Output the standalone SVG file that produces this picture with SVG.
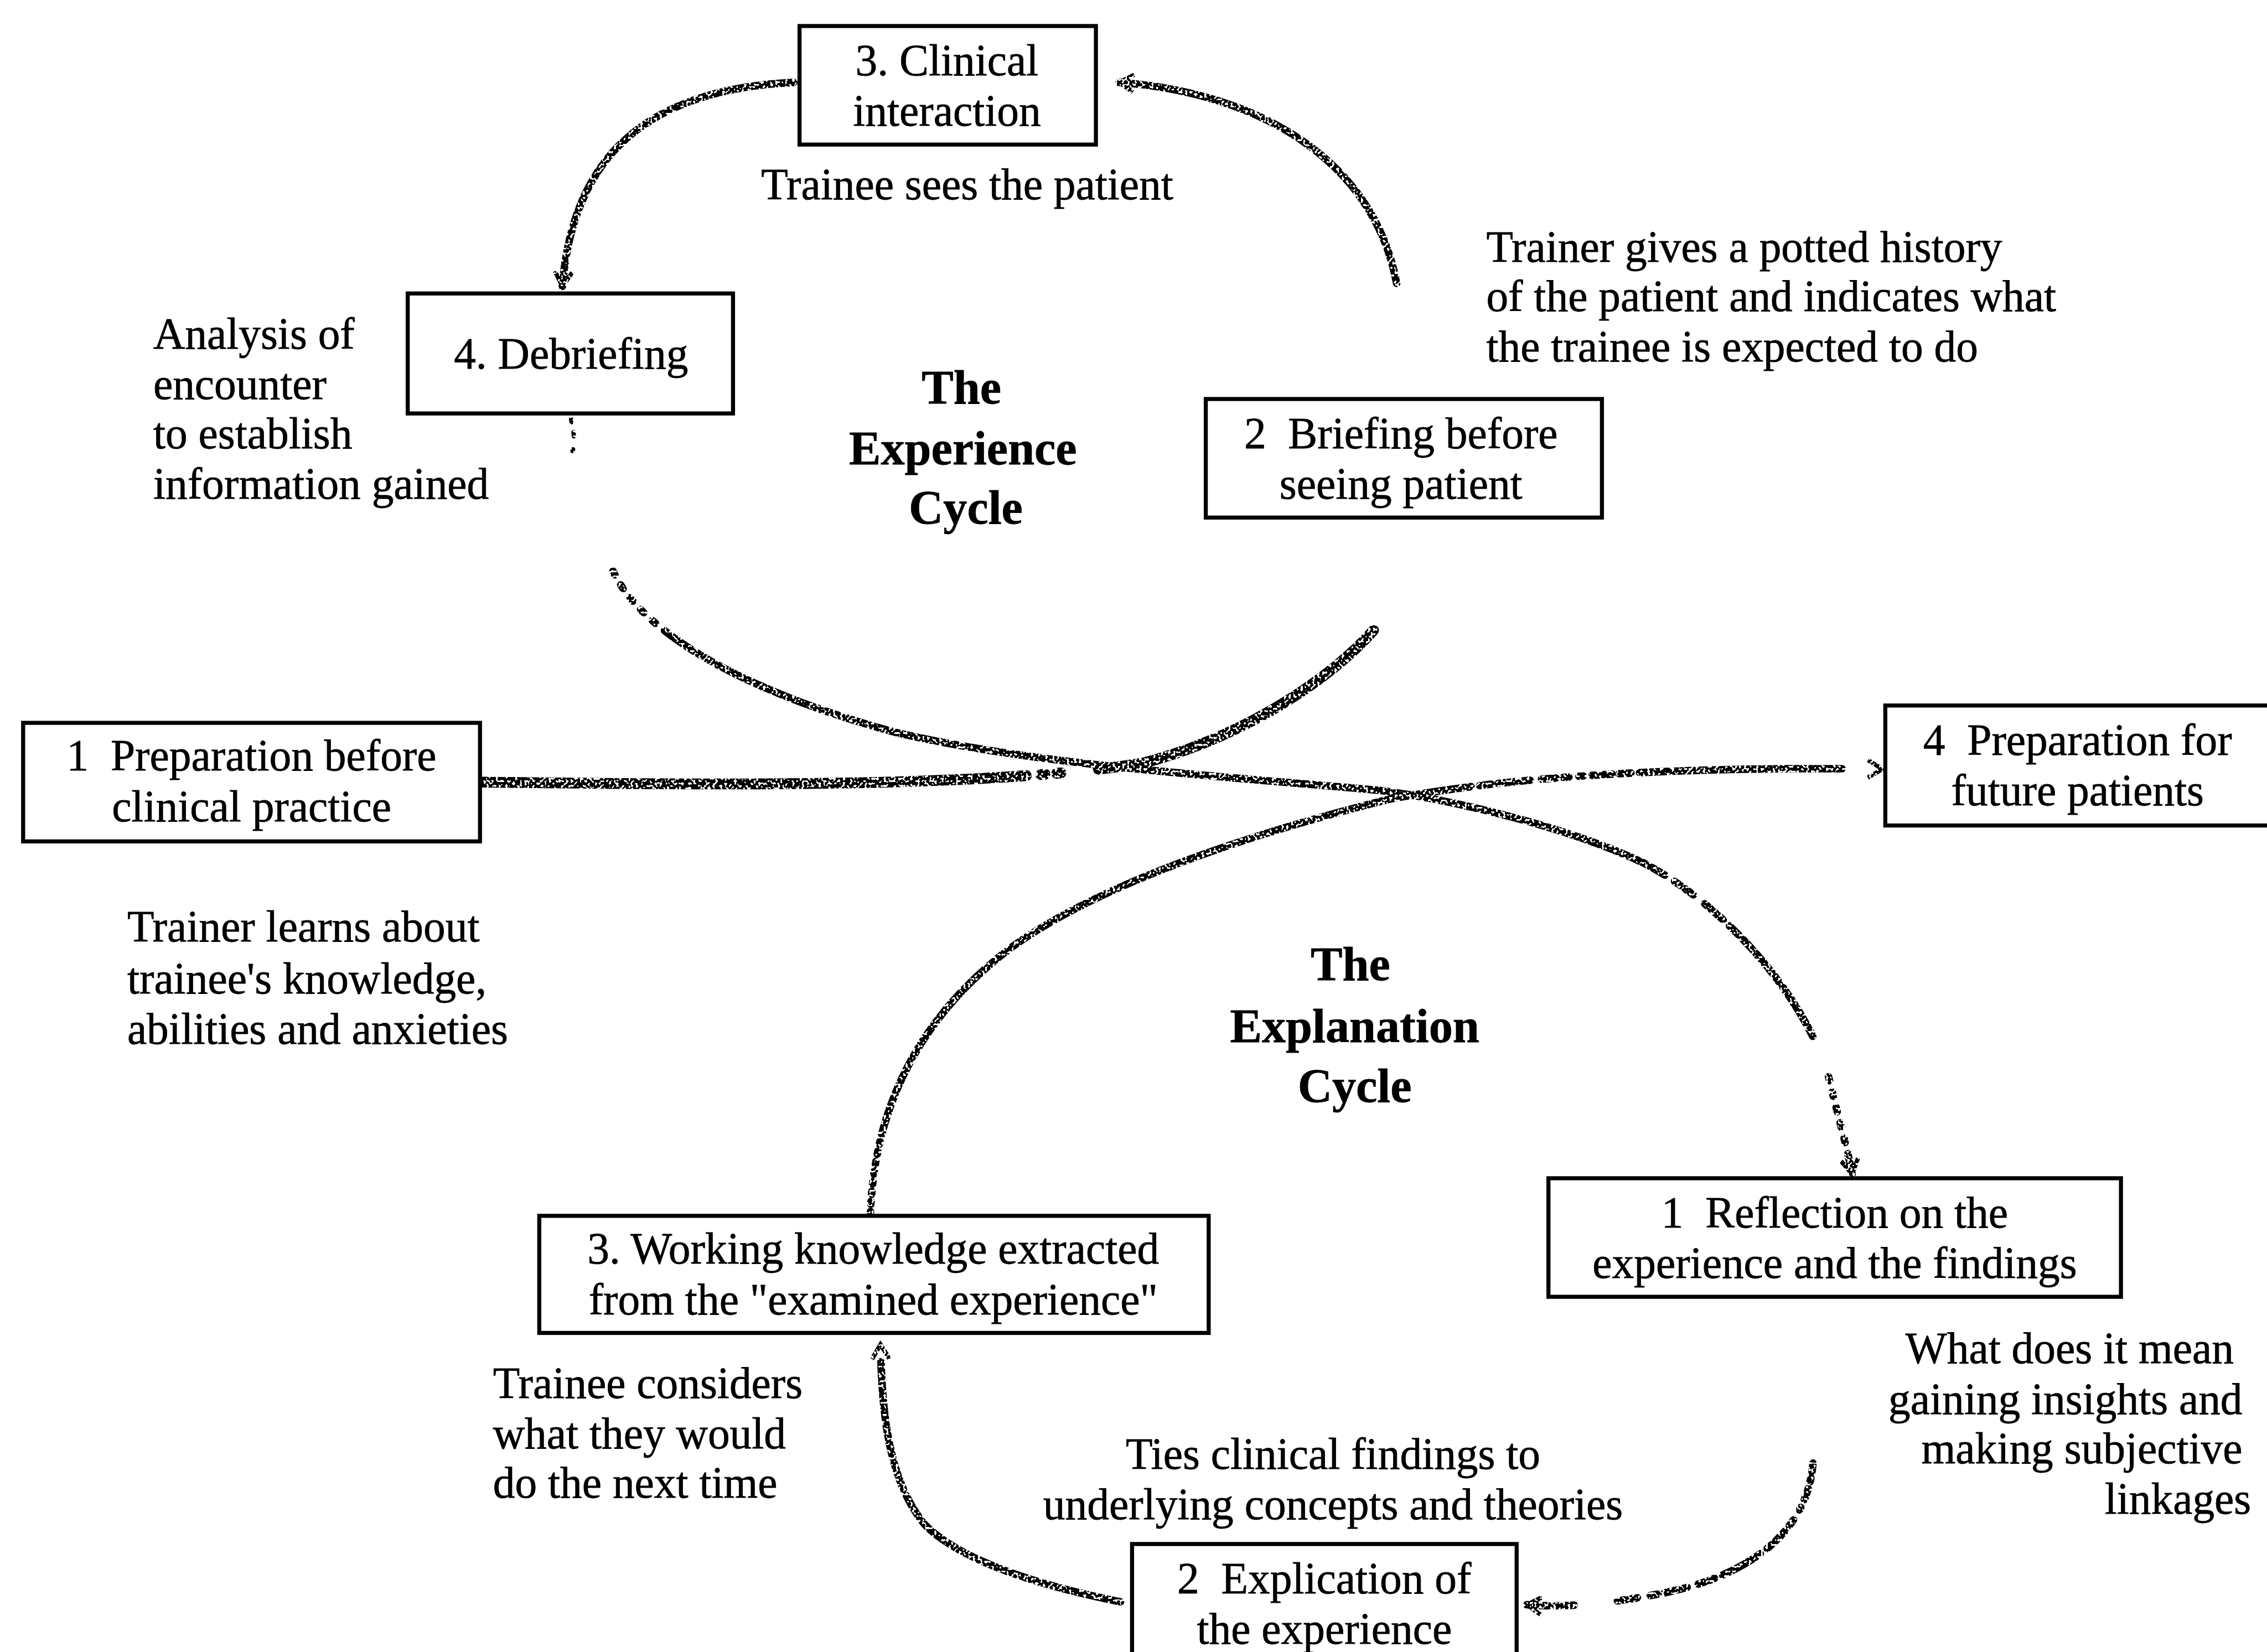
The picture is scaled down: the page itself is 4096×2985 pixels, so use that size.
<svg xmlns="http://www.w3.org/2000/svg" width="4096" height="2985" viewBox="0 0 4096 2985">
  <defs>
    <style>
      .t { font-family: "Liberation Serif", "Times New Roman", serif; font-size: 30.4px; fill: #000; stroke: #000; stroke-width: 0.3px; }
      .b { font-weight: bold; font-size: 33px; }
      .c { text-anchor: middle; }
      .e { text-anchor: end; }
      .box { fill: #fff; stroke: #000; stroke-width: 2.8; }
      .ln { fill: none; stroke: #000; stroke-width: 5.2; stroke-linecap: round; }
      .thick { stroke-width: 7.5; }
      .faint { stroke-width: 3; stroke-dasharray: 2 7 3 9; }
    </style>
    <!-- speckled, chalk-like texture for the cycle lines -->
    <filter id="chalk" filterUnits="userSpaceOnUse" x="0" y="0" width="1568" height="1143">
      <feTurbulence type="fractalNoise" baseFrequency="0.6" numOctaves="1" seed="7" result="noise"/>
      <feComponentTransfer in="noise" result="mask">
        <feFuncA type="discrete" tableValues="0 0 0 1 1 1 1"/>
      </feComponentTransfer>
      <feComposite in="SourceGraphic" in2="mask" operator="in"/>
    </filter>
    <marker id="tip" markerUnits="userSpaceOnUse" markerWidth="16" markerHeight="16" refX="11" refY="7" orient="auto" viewBox="0 0 16 14">
      <path d="M1,1 L11,7 L1,13" fill="none" stroke="#000" stroke-width="3"/>
    </marker>
  </defs>

  <rect width="4096" height="2985" fill="#fff"/>

  <g transform="scale(2.61224)">
    <!-- connectors: the experience cycle (upper loop) and explanation cycle (lower loop) -->
    <g id="connectors" filter="url(#chalk)">
      <!-- 1 Preparation -> 2 Briefing -->
      <path class="ln thick" d="M334,541 C500,543 680,545 790,528 C860,510 920,470 950,436" stroke-dasharray="376 10 3 8 3 26 400"/>
      <!-- 2 Briefing -> 3 Clinical interaction -->
      <path class="ln" d="M966,196 C950,110 870,64 774,57" marker-end="url(#tip)"/>
      <!-- 3 Clinical interaction -> 4 Debriefing -->
      <path class="ln" d="M549,57 C445,62 396,110 389,198" marker-end="url(#tip)"/>
      <!-- 4 Debriefing -> 1 Reflection -->
      <path class="ln faint" d="M395,290 C397,300 398,305 396,312"/>
      <path class="ln" d="M424,395 C445,440 520,480 621,507 C720,530 860,538 957,547 C1000,553 1080,570 1137,597 C1200,630 1255,700 1266,750 C1272,775 1278,795 1281,812"
            stroke-dasharray="3 8 3 8 3 8 3 8 3 8 720 8 5 4 7 10 6 3 8 6 9 4 10 3 12 2 14 2 40 30" marker-end="url(#tip)"/>
      <!-- 1 Reflection -> 2 Explication -->
      <path class="ln" d="M1254,1012 C1250,1060 1210,1090 1150,1102 C1110,1110 1080,1112 1056,1110"
            stroke-dasharray="6 4 3 5 8 6 2 8 5 5 9 4 4 6 30" marker-end="url(#tip)"/>
      <!-- 2 Explication -> 3 Working knowledge -->
      <path class="ln" d="M775,1108 C720,1097 665,1080 640,1055 C615,1025 610,980 609,930"
            stroke-dasharray="150 4 6 3 8 5 7 3 9 4 10 2 12 3 40" marker-end="url(#tip)"/>
      <!-- 3 Working knowledge -> 4 Preparation for future patients -->
      <path class="ln" d="M602,840 C605,760 640,700 700,655 C760,612 860,578 960,553 C1040,538 1150,530 1302,532"
            stroke-dasharray="2 5 2 5 2 5 2 5 2 5 2 5 2 5 2 5 500 6 8 5 12 4 6 8 10 5 4 7 3 6 14 5 8 6 20 4 60" marker-end="url(#tip)"/>
    </g>

    <!-- experience cycle -->
    <g id="clinical-interaction">
      <rect class="box" x="553" y="18" width="205" height="82"/>
      <text class="t c" x="655" y="52">3. Clinical</text>
      <text class="t c" x="655" y="87">interaction</text>
    </g>
    <g id="debriefing">
      <rect class="box" x="282" y="203" width="225" height="83"/>
      <text class="t c" x="395" y="255">4. Debriefing</text>
    </g>
    <g id="briefing">
      <rect class="box" x="834" y="276" width="274" height="82"/>
      <text class="t c" x="969" y="310">2&#160; Briefing before</text>
      <text class="t c" x="969" y="345">seeing patient</text>
    </g>
    <g id="preparation-before">
      <rect class="box" x="16" y="500" width="316" height="82"/>
      <text class="t c" x="174" y="533">1&#160; Preparation before</text>
      <text class="t c" x="174" y="568">clinical practice</text>
    </g>
    <g id="preparation-future">
      <rect class="box" x="1304" y="488" width="280" height="83"/>
      <text class="t c" x="1437" y="522">4&#160; Preparation for</text>
      <text class="t c" x="1437" y="557">future patients</text>
    </g>

    <!-- explanation cycle -->
    <g id="reflection">
      <rect class="box" x="1071" y="815" width="396" height="82"/>
      <text class="t c" x="1269" y="849">1&#160; Reflection on the</text>
      <text class="t c" x="1269" y="884">experience and the findings</text>
    </g>
    <g id="working-knowledge">
      <rect class="box" x="373" y="841" width="463" height="81"/>
      <text class="t c" x="604" y="874">3. Working knowledge extracted</text>
      <text class="t c" x="604" y="909">from the "examined experience"</text>
    </g>
    <g id="explication">
      <rect class="box" x="783" y="1068" width="266" height="100"/>
      <text class="t c" x="916" y="1102">2&#160; Explication of</text>
      <text class="t c" x="916" y="1137">the experience</text>
    </g>

    <!-- cycle titles -->
    <g id="experience-title">
      <text class="t b c" x="665" y="279">The</text>
      <text class="t b c" x="666" y="321">Experience</text>
      <text class="t b c" x="668" y="362">Cycle</text>
    </g>
    <g id="explanation-title">
      <text class="t b c" x="934" y="678">The</text>
      <text class="t b c" x="937" y="721">Explanation</text>
      <text class="t b c" x="937" y="762">Cycle</text>
    </g>

    <!-- annotations -->
    <g id="notes">
      <text class="t c" x="669" y="138">Trainee sees the patient</text>
      <text class="t" x="1028" y="181">Trainer gives a potted history</text>
      <text class="t" x="1028" y="215">of the patient and indicates what</text>
      <text class="t" x="1028" y="250">the trainee is expected to do</text>
      <text class="t" x="106" y="241">Analysis of</text>
      <text class="t" x="106" y="276">encounter</text>
      <text class="t" x="106" y="310">to establish</text>
      <text class="t" x="106" y="345">information gained</text>
      <text class="t" x="88" y="651">Trainer learns about</text>
      <text class="t" x="88" y="687">trainee's knowledge,</text>
      <text class="t" x="88" y="722">abilities and anxieties</text>
      <text class="t e" x="1545" y="943">What does it mean</text>
      <text class="t e" x="1551" y="978">gaining insights and</text>
      <text class="t e" x="1551" y="1012">making subjective</text>
      <text class="t e" x="1557" y="1047">linkages</text>
      <text class="t" x="341" y="967">Trainee considers</text>
      <text class="t" x="341" y="1002">what they would</text>
      <text class="t" x="341" y="1036">do the next time</text>
      <text class="t c" x="922" y="1016">Ties clinical findings to</text>
      <text class="t c" x="922" y="1051">underlying concepts and theories</text>
    </g>
  </g>
</svg>
